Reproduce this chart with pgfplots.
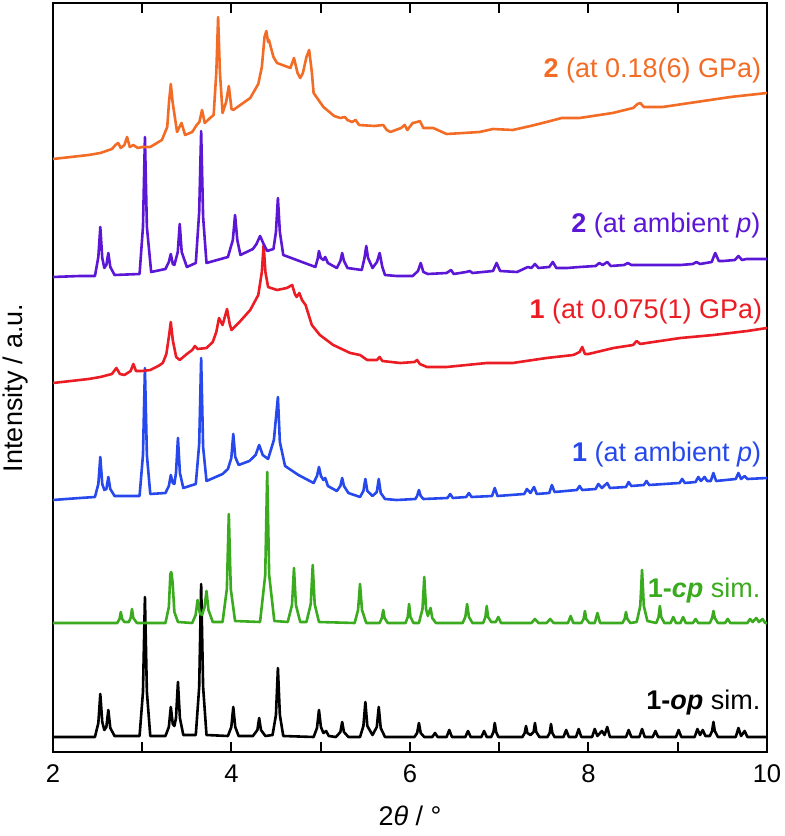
\documentclass[border=0pt]{standalone}
\usepackage{fontspec}
\setmainfont{Liberation Sans}
\usepackage{pgfplots}
\pgfplotsset{compat=1.18}
\definecolor{corange}{RGB}{242,108,38}
\definecolor{cpurple}{RGB}{92,22,214}
\definecolor{cred}{RGB}{236,28,36}
\definecolor{cblue}{RGB}{38,72,236}
\definecolor{cgreen}{RGB}{58,170,30}
\newcommand{\lbl}{\fontsize{13.5}{16}\selectfont}
\newcommand{\tkl}{\fontsize{12.8}{15}\selectfont}
\begin{document}
\begin{tikzpicture}
\path[use as bounding box] (0,0) rectangle (392pt,418pt);
\begin{axis}[
  at={(26.5pt,42pt)}, anchor=south west,
  width=357pt, height=374.5pt, scale only axis,
  xmin=2, xmax=10, ymin=0, ymax=749,
  ytick=\empty,
  xtick={2,3,...,10}, xticklabels={2,,4,,6,,8,,10},
  tick align=inside, xtick pos=both,
  major tick length=5pt,
  xtick style={draw=black, line width=1pt},
  axis line style={line width=1pt},
  tick label style={font=\tkl},
  xticklabel style={yshift=-3pt},
  xlabel={2{\itshape θ} / °},
  ylabel={Intensity / a.u.},
  every axis x label/.style={at={(axis description cs:0.5,-0.085)}, anchor=center, font=\lbl},
  every axis y label/.style={at={(axis description cs:-0.053,0.486)}, anchor=center, rotate=90, font=\lbl},
  every axis plot/.append style={line width=1.3pt, line join=round, mark=none},
]
% 1-op sim.
\addplot[black] coordinates {
(2.00,15)(2.47,15)(2.508,29)(2.53,58)(2.552,30)(2.575,22)(2.598,25)(2.62,42)(2.642,24)(2.69,16)
(2.97,16)(3.008,60)(3.03,155)(3.052,60)(3.09,16)
(3.26,16)(3.298,25)(3.32,45)(3.342,28)(3.36,26)(3.378,34)(3.40,70)(3.422,34)(3.46,17)
(3.60,17)(3.638,65)(3.66,168)(3.682,65)(3.72,17)
(3.96,16)(3.998,25)(4.02,45)(4.042,25)(4.08,16)
(4.24,16)(4.29,22)(4.31,34)(4.33,22)(4.38,16)
(4.46,17)(4.498,37)(4.52,84)(4.542,37)(4.58,16)
(4.92,15)(4.958,24)(4.98,42)(5.002,25)(5.03,19)(5.06,21)(5.09,16)
(5.17,15)(5.22,20)(5.24,30)(5.26,20)(5.31,15)
(5.44,15)(5.478,26)(5.50,50)(5.522,26)(5.58,17)(5.628,25)(5.65,45)(5.672,24)(5.72,15)
(6.05,15)(6.08,19)(6.10,29)(6.12,19)(6.16,15)
(6.25,15)(6.28,19)(6.31,15)
(6.41,15)(6.44,22)(6.47,15)
(6.62,15)(6.65,21)(6.68,15)
(6.80,15)(6.83,21)(6.86,15)
(6.91,15)(6.935,20)(6.95,29)(6.965,20)(6.99,15)
(7.26,15)(7.285,19)(7.30,26)(7.315,19)(7.35,17)(7.385,20)(7.40,29)(7.415,20)(7.45,15)
(7.54,15)(7.565,19)(7.58,28)(7.595,19)(7.62,15)
(7.72,15)(7.75,22)(7.78,15)
(7.86,15)(7.89,23)(7.92,15)
(8.04,15)(8.07,23)(8.10,16)(8.15,21)(8.18,17)(8.21,25)(8.24,15)
(8.42,15)(8.45,22)(8.48,15)
(8.57,15)(8.60,23)(8.63,15)
(8.72,15)(8.75,21)(8.78,15)
(8.98,15)(9.01,22)(9.04,15)
(9.19,15)(9.22,23)(9.25,17)(9.28,22)(9.31,16)(9.36,16)(9.385,21)(9.40,30)(9.415,21)(9.45,15)
(9.65,15)(9.68,24)(9.71,16)(9.75,21)(9.78,15)(10,15)
};
% 1-cp sim.
\addplot[cgreen] coordinates {
(2.00,129)(2.72,129)(2.745,133)(2.76,140)(2.775,133)(2.80,130)(2.85,130)(2.87,134)(2.885,143)(2.90,134)(2.94,129)
(3.26,129)(3.298,145)(3.315,178)(3.325,180)(3.34,170)(3.36,140)(3.40,130)
(3.56,129)(3.598,137)(3.62,152)(3.645,139)(3.67,137)(3.698,145)(3.72,161)(3.742,142)(3.79,130)
(3.90,130)(3.948,163)(3.97,238)(3.992,163)(4.04,131)
(4.32,130)(4.378,177)(4.40,280)(4.422,177)(4.48,131)
(4.63,130)(4.678,147)(4.70,184)(4.722,147)(4.77,130)
(4.84,130)(4.888,148)(4.91,187)(4.932,148)(4.98,130)
(5.38,129)(5.418,142)(5.44,168)(5.462,142)(5.51,129)
(5.66,129)(5.685,134)(5.70,142)(5.715,134)(5.75,129)
(5.95,129)(5.975,135)(5.99,148)(6.005,135)(6.04,129)
(6.10,129)(6.14,143)(6.16,175)(6.18,143)(6.20,136)(6.23,144)(6.25,134)(6.29,129)
(6.59,129)(6.62,135)(6.64,148)(6.66,135)(6.70,129)
(6.82,129)(6.845,135)(6.86,146)(6.875,135)(6.91,130)
(6.96,130)(6.99,135)(7.02,129)
(7.36,129)(7.40,133)(7.44,129)
(7.53,129)(7.57,133)(7.61,129)
(7.77,129)(7.80,136)(7.83,129)
(7.92,129)(7.945,133)(7.96,141)(7.975,133)(8.01,129)
(8.07,129)(8.10,139)(8.13,129)
(8.38,129)(8.405,133)(8.42,140)(8.435,133)(8.47,129)
(8.54,130)(8.58,146)(8.60,182)(8.62,146)(8.66,131)
(8.76,129)(8.785,135)(8.80,146)(8.815,135)(8.85,129)
(8.92,129)(8.95,135)(8.98,129)
(9.03,129)(9.06,135)(9.09,129)
(9.17,129)(9.20,133)(9.23,129)
(9.36,129)(9.385,134)(9.40,141)(9.415,134)(9.45,129)
(9.53,129)(9.56,133)(9.59,129)
(9.78,129)(9.81,133)(9.84,130)(9.88,134)(9.91,130)(9.95,133)(9.98,129)(10,129)
};
% 1 ambient
\addplot[cblue] coordinates {
(2.00,252)(2.30,254)(2.47,255)(2.508,268)(2.53,295)(2.552,268)(2.575,262)(2.598,263)(2.62,275)(2.642,263)(2.69,256)
(2.97,256)(3.008,297)(3.03,384)(3.052,297)(3.09,258)
(3.26,259)(3.298,266)(3.32,277)(3.342,269)(3.36,268)(3.378,279)(3.40,314)(3.422,279)(3.46,264)
(3.60,268)(3.638,308)(3.66,394)(3.682,305)(3.72,271)
(3.90,278)(3.96,283)(3.998,294)(4.02,318)(4.042,295)(4.08,287)
(4.20,291)(4.27,297)(4.31,307)(4.35,297)(4.41,293)(4.475,312)(4.52,355)(4.542,310)(4.60,286)
(4.75,277)(4.92,269)(4.958,276)(4.98,285)(5.002,276)(5.03,272)(5.05,274)(5.08,266)
(5.18,261)(5.22,266)(5.24,274)(5.26,266)(5.31,259)
(5.44,255)(5.478,261)(5.50,273)(5.522,261)(5.58,256)(5.628,260)(5.65,273)(5.672,259)(5.72,253)
(5.85,252)(6.06,253)(6.08,256)(6.10,262)(6.12,256)(6.15,253)
(6.42,254)(6.45,258)(6.48,254)
(6.63,255)(6.66,259)(6.69,255)
(6.92,256)(6.95,264)(6.98,256)
(7.28,258)(7.31,263)(7.35,259)(7.39,265)(7.42,258)
(7.56,259)(7.59,267)(7.62,260)
(7.87,262)(7.90,266)(7.93,262)
(8.08,263)(8.11,268)(8.15,264)(8.21,269)(8.24,264)
(8.42,265)(8.45,270)(8.48,266)
(8.62,267)(8.65,271)(8.68,267)
(9.02,269)(9.05,273)(9.08,269)
(9.20,270)(9.23,275)(9.26,271)(9.30,275)(9.33,271)
(9.37,271)(9.40,279)(9.43,271)
(9.65,273)(9.68,279)(9.71,273)(9.75,276)(9.78,273)(10,274)
};
% 1 at 0.075(1) GPa
\addplot[cred] coordinates {
(2.00,369)(2.20,371)(2.40,373)(2.53,375)(2.66,378)(2.71,384)(2.75,378)(2.80,377)(2.87,381)(2.90,388)(2.93,381)(3.00,381)(3.09,382)(3.18,386)(3.23,389)(3.27,398)(3.298,415)(3.32,430)(3.342,412)(3.38,395)(3.42,392)(3.50,398)(3.56,402)(3.59,406)(3.62,403)(3.72,404)(3.79,410)(3.83,420)(3.86,434)(3.90,427)(3.95,443)(3.98,428)(4.00,422)(4.09,430)(4.21,442)(4.30,457)(4.34,480)(4.36,507)(4.38,480)(4.41,465)(4.51,462)(4.62,464)(4.68,467)(4.71,458)(4.73,455)(4.76,459)(4.79,452)(4.83,447)(4.90,427)(4.99,417)(5.14,407)(5.33,399)(5.44,397)(5.52,392)(5.63,392)(5.66,395)(5.69,391)(5.89,389)(6.05,390)(6.08,392)(6.11,388)(6.19,385)(6.41,385)(6.86,389)(7.15,389)(7.53,394)(7.83,397)(7.90,400)(7.93,405)(7.96,398)(8.00,398)(8.28,404)(8.50,407)(8.54,411)(8.58,408)(8.65,409)(9.03,414)(9.40,417)(9.78,421)(10,424)
};
% 2 ambient
\addplot[cpurple] coordinates {
(2.00,475)(2.30,476)(2.47,476)(2.508,495)(2.53,525)(2.552,494)(2.575,484)(2.598,487)(2.62,499)(2.642,485)(2.69,477)
(2.97,478)(3.008,525)(3.03,615)(3.052,525)(3.10,480)
(3.26,483)(3.298,490)(3.32,498)(3.342,488)(3.36,487)(3.398,500)(3.42,528)(3.442,500)(3.50,485)
(3.60,489)(3.638,540)(3.66,621)(3.682,535)(3.72,489)
(3.96,495)(4.015,512)(4.04,537)(4.065,512)(4.10,497)
(4.24,503)(4.28,508)(4.32,516)(4.36,508)(4.40,501)(4.47,503)(4.498,520)(4.52,554)(4.542,520)(4.58,497)
(4.94,485)(4.965,493)(4.98,501)(5.00,494)(5.03,492)(5.05,495)(5.08,489)
(5.18,484)(5.22,491)(5.24,499)(5.26,491)(5.30,484)
(5.46,482)(5.49,494)(5.51,506)(5.53,494)(5.58,484)(5.63,490)(5.66,499)(5.69,485)(5.72,477)
(5.85,476)(6.03,476)(6.09,481)(6.12,489)(6.15,480)(6.20,478)
(6.41,479)(6.46,482)(6.49,478)
(6.63,480)(6.67,481)(6.70,479)
(6.93,481)(6.97,489)(7.01,481)
(7.20,480)(7.32,485)(7.36,484)(7.40,488)(7.44,484)
(7.56,485)(7.60,490)(7.64,484)
(7.76,484)(7.90,485)
(8.08,486)(8.12,489)(8.16,487)(8.21,490)(8.25,486)
(8.40,487)(8.44,489)(8.48,487)
(8.65,487)(9.03,487)
(9.17,488)(9.21,490)(9.25,488)
(9.38,490)(9.42,499)(9.46,491)(9.51,491)
(9.64,492)(9.68,496)(9.72,492)(9.77,493)(10,493)
};
% 2 at 0.18(6) GPa
\addplot[corange] coordinates {
(2.00,593)(2.20,595)(2.40,597)(2.53,599)(2.66,603)(2.70,607)(2.73,609)(2.76,604)(2.80,607)(2.83,615)(2.86,605)(2.90,607)(2.95,604)(3.00,605)(3.09,605)(3.22,612)(3.28,625)(3.30,650)(3.32,668)(3.34,650)(3.39,620)(3.44,629)(3.48,617)(3.56,620)(3.61,627)(3.64,630)(3.67,642)(3.70,629)(3.76,634)(3.80,637)(3.83,680)(3.85,735)(3.87,680)(3.90,639)(3.94,650)(3.97,666)(4.00,643)(4.02,642)(4.21,654)(4.30,668)(4.34,685)(4.37,715)(4.39,721)(4.41,710)(4.42,712)(4.44,705)(4.47,695)(4.51,689)(4.60,686)(4.66,684)(4.70,694)(4.74,679)(4.77,674)(4.80,679)(4.84,695)(4.87,702)(4.90,680)(4.92,659)(5.03,645)(5.15,636)(5.22,634)(5.27,635)(5.30,632)(5.35,630)(5.39,632)(5.43,627)(5.60,626)(5.70,627)(5.74,622)(5.78,620)(5.90,624)(5.94,627)(5.97,622)(6.03,629)(6.08,630)(6.11,631)(6.15,624)(6.26,624)(6.41,618)(6.60,619)(6.78,620)(6.93,623)(7.15,622)(7.35,626)(7.53,630)(7.70,634)(7.90,634)(8.27,639)(8.50,644)(8.55,648)(8.58,649)(8.62,645)(8.83,645)(9.21,650)(9.59,655)(10,659)
};
\node[anchor=base east, inner sep=0pt, text=corange, font=\lbl] at (axis cs:9.94,674) {\textbf{2} (at 0.18(6) GPa)};
\node[anchor=base east, inner sep=0pt, text=cpurple, font=\lbl] at (axis cs:9.93,519) {\textbf{2} (at ambient \textit{p})};
\node[anchor=base east, inner sep=0pt, text=cred, font=\lbl] at (axis cs:9.95,433) {\textbf{1} (at 0.075(1) GPa)};
\node[anchor=base east, inner sep=0pt, text=cblue, font=\lbl] at (axis cs:9.94,290) {\textbf{1} (at ambient \textit{p})};
\node[anchor=base east, inner sep=0pt, text=cgreen, font=\lbl] at (axis cs:9.93,155) {\textbf{1-\textit{cp}} sim.};
\node[anchor=base east, inner sep=0pt, text=black, font=\lbl] at (axis cs:9.93,42) {\textbf{1-\textit{op}} sim.};
\end{axis}
\end{tikzpicture}
\end{document}
